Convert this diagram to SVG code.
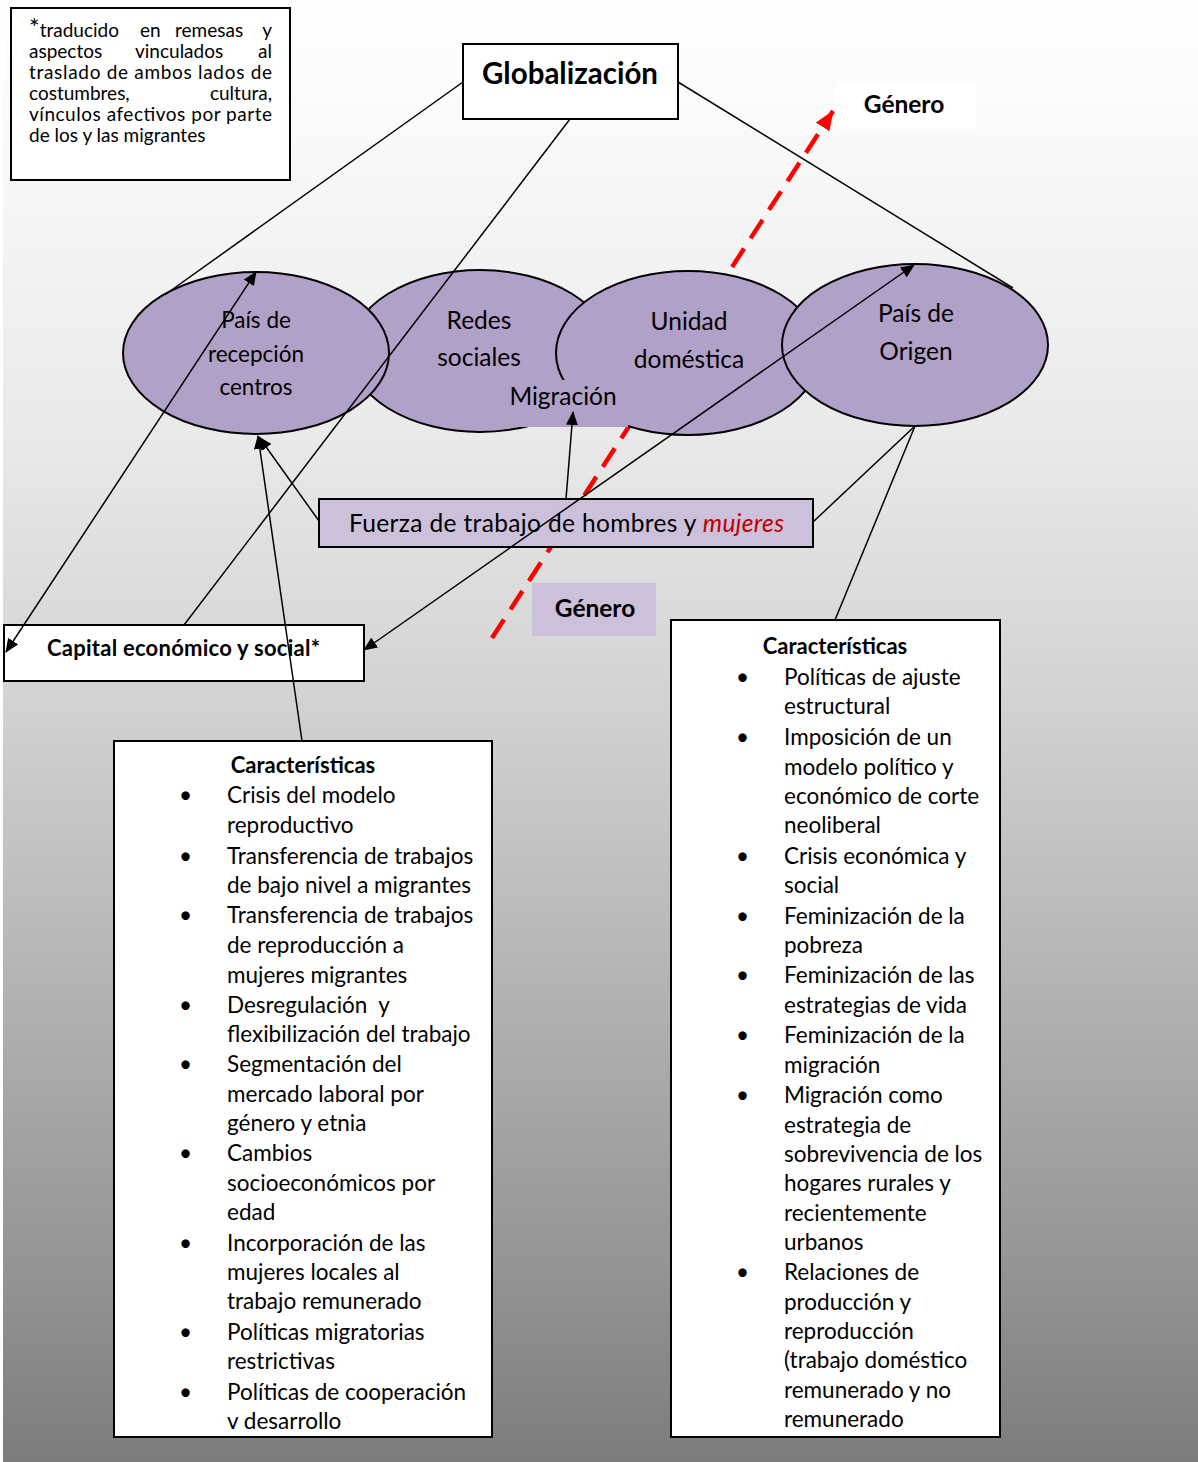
<svg xmlns="http://www.w3.org/2000/svg" width="1198" height="1462" viewBox="0 0 1198 1462">
<defs>
<linearGradient id="bg" x1="0" y1="0" x2="0" y2="1">
<stop offset="0" stop-color="#ffffff"/>
<stop offset="0.07" stop-color="#fbfbfb"/>
<stop offset="0.3" stop-color="#e9e9e9"/>
<stop offset="0.48" stop-color="#d2d2d2"/>
<stop offset="0.68" stop-color="#b2b2b2"/>
<stop offset="0.88" stop-color="#929292"/>
<stop offset="1" stop-color="#7c7c7c"/>
</linearGradient>
<marker id="ar" markerUnits="userSpaceOnUse" markerWidth="14" markerHeight="12" refX="13" refY="6" orient="auto-start-reverse" viewBox="0 0 14 12">
<path d="M0,0 L14,6 L0,12 z" fill="#000"/>
</marker>
<marker id="rar" markerUnits="userSpaceOnUse" markerWidth="20" markerHeight="16" refX="19" refY="8" orient="auto" viewBox="0 0 20 16">
<path d="M0,0 L20,8 L0,16 z" fill="#ff0000"/>
</marker>
</defs>
<style>
text{font-family:Lato,"Open Sans","Liberation Sans",sans-serif;fill:#000}
.box{fill:#fff;stroke:#000;stroke-width:2}
.ell{fill:#b1a0c7;stroke:#000;stroke-width:2}
.lbl{font-size:24.5px;text-anchor:middle}
.lbs{font-size:22.5px;text-anchor:middle}
.note{font-size:19px}
.li{font-size:22.5px}
.ttl{font-size:22px;font-weight:bold;text-anchor:middle}
.gen{font-size:24.5px;font-weight:bold;text-anchor:middle}
.con line{stroke:#000;stroke-width:1.5;fill:none}
</style>
<rect x="3" y="0" width="1195" height="1462" fill="url(#bg)"/>

<!-- red dashed gender arrow (behind shapes) -->
<g id="genero-arrow">
<line x1="492" y1="638" x2="833" y2="111" stroke="#ff0000" stroke-width="4.5" stroke-dasharray="22,12" marker-end="url(#rar)"/>
</g>

<g id="nota">
<rect x="11" y="8" width="279" height="172" fill="#fff" stroke="#000" stroke-width="2"/>
<text class="note" x="29" y="37"><tspan style="font-size:25px">*</tspan>traducido</text>
<text class="note" x="140" y="37">en</text>
<text class="note" x="175" y="37">remesas</text>
<text class="note" x="272" y="37" text-anchor="end">y</text>
<text class="note" x="29" y="58">aspectos</text>
<text class="note" x="135" y="58">vinculados</text>
<text class="note" x="272" y="58" text-anchor="end">al</text>
<text class="note" x="29" y="79" textLength="243" lengthAdjust="spacing">traslado de ambos lados de</text>
<text class="note" x="29" y="100">costumbres,</text>
<text class="note" x="272" y="100" text-anchor="end">cultura,</text>
<text class="note" x="29" y="121" textLength="243" lengthAdjust="spacing">vínculos afectivos por parte</text>
<text class="note" x="29" y="142">de los y las migrantes</text>
</g>

<g id="globalizacion">
<rect class="box" x="463" y="44" width="215" height="75"/>
<text x="570" y="84" font-size="29.5" font-weight="bold" text-anchor="middle">Globalización</text>
</g>

<g id="genero-top">
<rect x="836" y="82" width="140" height="47" fill="#fff"/>
<text class="gen" x="904" y="113">Género</text>
</g>

<g id="redes">
<ellipse class="ell" cx="480" cy="351" rx="130" ry="81"/>
<text class="lbl" x="479" y="329">Redes</text>
<text class="lbl" x="479" y="366">sociales</text>
</g>
<g id="pais-recepcion">
<ellipse class="ell" cx="256" cy="353" rx="133" ry="81"/>
<text class="lbs" x="256" y="328">País de</text>
<text class="lbs" x="256" y="362">recepción</text>
<text class="lbs" x="256" y="395">centros</text>
</g>
<g id="unidad">
<ellipse class="ell" cx="688" cy="353" rx="132" ry="82"/>
<text class="lbl" x="689" y="330">Unidad</text>
<text class="lbl" x="689" y="368">doméstica</text>
</g>
<g id="pais-origen">
<ellipse class="ell" cx="915" cy="345" rx="133" ry="81"/>
<text class="lbl" x="916" y="322">País de</text>
<text class="lbl" x="916" y="360">Origen</text>
</g>
<g id="migracion">
<rect x="503" y="380" width="125" height="47" fill="#b1a0c7"/>
<text class="lbl" x="563" y="405">Migración</text>
</g>

<g id="fuerza">
<rect x="319" y="499" width="494" height="48" fill="#ccc0da" stroke="#000" stroke-width="2"/>
<text x="349" y="532" font-size="24.5" textLength="435" lengthAdjust="spacing">Fuerza de trabajo de hombres y <tspan fill="#c00000" font-style="italic">mujeres</tspan></text>
</g>

<g id="genero-mid">
<rect x="532" y="583" width="124" height="53" fill="#ccc0da"/>
<text class="gen" x="595" y="617">Género</text>
</g>

<g id="capital">
<rect class="box" x="4" y="625" width="360" height="56"/>
<text x="47" y="656" font-size="22" font-weight="bold" textLength="273" lengthAdjust="spacing">Capital económico y social*</text>
</g>

<g id="caract-izq">
<rect class="box" x="114" y="741" width="378" height="696"/>
<text class="ttl" x="303" y="773">Características</text>
<g class="li">
<text x="179" y="803">•</text>
<text x="227" y="803">Crisis del modelo</text>
<text x="227" y="833">reproductivo</text>
<text x="179" y="864">•</text>
<text x="227" y="864">Transferencia de trabajos</text>
<text x="227" y="893">de bajo nivel a migrantes</text>
<text x="179" y="923">•</text>
<text x="227" y="923">Transferencia de trabajos</text>
<text x="227" y="953">de reproducción a</text>
<text x="227" y="983">mujeres migrantes</text>
<text x="179" y="1013">•</text>
<text x="227" y="1013" xml:space="preserve">Desregulación  y</text>
<text x="227" y="1042">flexibilización del trabajo</text>
<text x="179" y="1072">•</text>
<text x="227" y="1072">Segmentación del</text>
<text x="227" y="1102">mercado laboral por</text>
<text x="227" y="1131">género y etnia</text>
<text x="179" y="1161">•</text>
<text x="227" y="1161">Cambios</text>
<text x="227" y="1191">socioeconómicos por</text>
<text x="227" y="1220">edad</text>
<text x="179" y="1251">•</text>
<text x="227" y="1251">Incorporación de las</text>
<text x="227" y="1280">mujeres locales al</text>
<text x="227" y="1309">trabajo remunerado</text>
<text x="179" y="1340">•</text>
<text x="227" y="1340">Políticas migratorias</text>
<text x="227" y="1369">restrictivas</text>
<text x="179" y="1400">•</text>
<text x="227" y="1400">Políticas de cooperación</text>
<text x="227" y="1429">v desarrollo</text>
</g>
</g>

<g id="caract-der">
<rect class="box" x="671" y="620" width="329" height="817"/>
<text class="ttl" x="835" y="654">Características</text>
<g class="li">
<text x="736" y="685">•</text>
<text x="784" y="685">Políticas de ajuste</text>
<text x="784" y="714">estructural</text>
<text x="736" y="745">•</text>
<text x="784" y="745">Imposición de un</text>
<text x="784" y="775">modelo político y</text>
<text x="784" y="804">económico de corte</text>
<text x="784" y="833">neoliberal</text>
<text x="736" y="864">•</text>
<text x="784" y="864">Crisis económica y</text>
<text x="784" y="893">social</text>
<text x="736" y="924">•</text>
<text x="784" y="924">Feminización de la</text>
<text x="784" y="953">pobreza</text>
<text x="736" y="983">•</text>
<text x="784" y="983">Feminización de las</text>
<text x="784" y="1013">estrategias de vida</text>
<text x="736" y="1043">•</text>
<text x="784" y="1043">Feminización de la</text>
<text x="784" y="1073">migración</text>
<text x="736" y="1103">•</text>
<text x="784" y="1103">Migración como</text>
<text x="784" y="1133">estrategia de</text>
<text x="784" y="1162">sobrevivencia de los</text>
<text x="784" y="1191">hogares rurales y</text>
<text x="784" y="1221">recientemente</text>
<text x="784" y="1250">urbanos</text>
<text x="736" y="1280">•</text>
<text x="784" y="1280">Relaciones de</text>
<text x="784" y="1310">producción y</text>
<text x="784" y="1339">reproducción</text>
<text x="784" y="1368">(trabajo doméstico</text>
<text x="784" y="1398">remunerado y no</text>
<text x="784" y="1427">remunerado</text>
</g>
</g>

<g id="connectors" class="con">
<line x1="463" y1="82" x2="166" y2="294"/>
<line x1="570" y1="119" x2="184" y2="625"/>
<line x1="678" y1="82" x2="1013" y2="288"/>
<line x1="256" y1="272" x2="6" y2="652" marker-start="url(#ar)" marker-end="url(#ar)"/>
<line x1="364" y1="650" x2="914" y2="265" marker-start="url(#ar)" marker-end="url(#ar)"/>
<line x1="319" y1="521" x2="259" y2="437" marker-end="url(#ar)"/>
<line x1="302" y1="741" x2="258" y2="436" marker-end="url(#ar)"/>
<line x1="566" y1="499" x2="573" y2="412" marker-end="url(#ar)"/>
<line x1="813" y1="522" x2="915" y2="426"/>
<line x1="835" y1="620" x2="915" y2="426"/>
</g>
</svg>
